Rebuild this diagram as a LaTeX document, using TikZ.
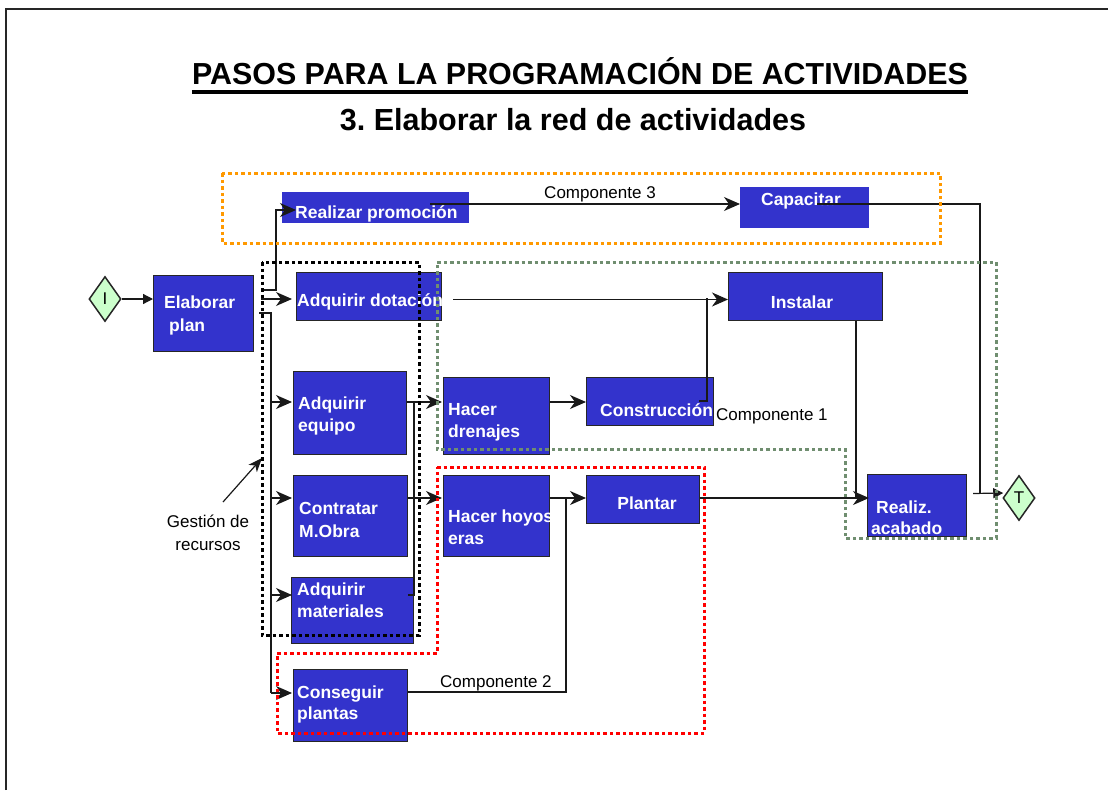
\documentclass[tikz,border=0pt]{standalone}
\usepackage{fontspec}
\setmainfont{Liberation Sans}
\usetikzlibrary{arrows.meta,shapes.geometric,calc}
\frenchspacing
\definecolor{boxblue}{RGB}{51,51,204}
\definecolor{dgreen}{RGB}{204,255,204}
\definecolor{forange}{RGB}{255,153,0}
\definecolor{fgreen}{RGB}{112,142,112}
\definecolor{fred}{RGB}{255,0,0}
\tikzset{
  boxnode/.style={draw=black!85, line width=1pt, fill=boxblue, anchor=north west, inner sep=0pt},
  plainbox/.style={fill=boxblue, anchor=north west, inner sep=0pt},
  wlbl/.style={text=white, font=\bfseries\fontsize{17.5}{21}\selectfont, inner sep=0pt, anchor=base west},
  wlblc/.style={text=white, font=\bfseries\fontsize{17.5}{21}\selectfont, inner sep=0pt, anchor=base},
  plbl/.style={text=black, font=\fontsize{17}{20}\selectfont, inner sep=0pt},
  conn/.style={draw=black!90, line width=1.2pt},
  arr/.style={conn, -{Stealth[length=16pt,width=14pt,inset=5pt]}},
  tri/.style={conn, -{Triangle[length=10pt,width=10pt]}},
  dec/.style={draw=black!85, line width=1.5pt, fill=dgreen, diamond, inner sep=0pt, minimum width=32pt, minimum height=45pt, font=\fontsize{17}{18}\selectfont},
  frame/.style={line width=3pt, dash pattern=on 3.5pt off 3pt}
}
\begin{document}
\begin{tikzpicture}[x=1pt,y=-1pt]
\useasboundingbox (0,0) rectangle (1108,790);
% page frame
\draw[line width=2.5pt, draw=black!85] (6,790) -- (6,9) -- (1108,9);
% titles
\node[font=\bfseries\fontsize{30.4}{36}\selectfont, anchor=base, inner sep=0pt] (title) at (580,84) {PASOS PARA LA PROGRAMACIÓN DE ACTIVIDADES};
\draw[line width=3.3pt] ($(title.base west)+(0,8)$) -- ($(title.base east)+(0,8)$);
\node[font=\bfseries\fontsize{30.5}{36}\selectfont, anchor=base, inner sep=0pt] (sub) at (573,130) {3. Elaborar la red de actividades};
% diamonds
\node[dec] (I) at (105,299) {I};
\node[dec] (T) at (1019,498) {T};
% boxes
\node[boxnode, minimum width=100pt, minimum height=76pt] (elab) at (153,275) {};
\node[plainbox, minimum width=187pt, minimum height=31pt] (promo) at (282,192) {};
\node[plainbox, minimum width=129pt, minimum height=41pt] (capac) at (740,187) {};
\node[boxnode, minimum width=145pt, minimum height=48pt] (dotac) at (296,272) {};
\node[boxnode, minimum width=154pt, minimum height=48pt] (instal) at (728,272) {};
\node[boxnode, minimum width=113pt, minimum height=83pt] (equipo) at (293,371) {};
\node[boxnode, minimum width=114pt, minimum height=81pt] (mobra) at (293,475) {};
\node[boxnode, minimum width=122pt, minimum height=66pt] (mater) at (291,577) {};
\node[boxnode, minimum width=114pt, minimum height=72pt] (consg) at (293,669) {};
\node[boxnode, minimum width=106pt, minimum height=77pt] (dren) at (443,377) {};
\node[boxnode, minimum width=127pt, minimum height=48pt] (constr) at (586,377) {};
\node[boxnode, minimum width=106pt, minimum height=81pt] (hoyos) at (443,475) {};
\node[boxnode, minimum width=113pt, minimum height=48pt] (plantar) at (586,475) {};
\node[boxnode, minimum width=99pt, minimum height=62pt] (acab) at (867,474) {};
% box labels
\node[wlbl] (elab1) at (164,308) {Elaborar};
\node[wlbl] (elab2) at (169,331) {plan};
\node[wlbl] (promo1) at (295,218) {Realizar promoción};
\node[wlblc] (capac1) at (801,205) {Capacitar};
\node[wlbl] (dotac1) at (297,306) {Adquirir dotación};
\node[wlblc] (instal1) at (802,308) {Instalar};
\node[wlbl] (equipo1) at (298,409) {Adquirir};
\node[wlbl] (equipo2) at (298,431) {equipo};
\node[wlbl] (mobra1) at (299,514) {Contratar};
\node[wlbl] (mobra2) at (299,537) {M.Obra};
\node[wlbl] (mater1) at (297,595) {Adquirir};
\node[wlbl] (mater2) at (297,617) {materiales};
\node[wlbl] (consg1) at (297,698) {Conseguir};
\node[wlbl] (consg2) at (297,719) {plantas};
\node[wlbl] (dren1) at (448,415) {Hacer};
\node[wlbl] (dren2) at (448,437) {drenajes};
\node[wlbl] (constr1) at (600,416) {Construcción};
\node[wlbl] (hoyos1) at (448,522) {Hacer hoyos};
\node[wlbl] (hoyos2) at (448,544) {eras};
\node[wlblc] (plantar1) at (647,509) {Plantar};
\node[wlbl] (acab1) at (876,513) {Realiz.};
\node[wlbl] (acab2) at (871,534) {acabado};
% plain labels
\node[plbl, anchor=base] (c3) at (600,198) {Componente 3};
\node[plbl, anchor=base west] (c1) at (716,420) {Componente 1};
\node[plbl, anchor=base west] (c2) at (440,687) {Componente 2};
\node[plbl, anchor=base] (gest1) at (208,527) {Gestión de};
\node[plbl, anchor=base] (gest2) at (208,550) {recursos};
% connectors
\draw[tri] (I.east) -- (I.east -| elab.west);
\draw[arr] ($(elab.north east)+(7,15)$) -- ++(15,0) |- ($(promo.north west)+(14,18)$);
\draw[arr] ($(elab.north east)+(7,24)$) -- ($(dotac.north west)+(-4,27)$);
\coordinate (bus) at (271,313);
\draw[conn] ($(elab.north east)+(5,38)$) -- (bus) -- (bus |- {$(consg.north west)+(0,24)$});
\draw[arr] (bus |- {$(equipo.north west)+(0,31)$}) -- ($(equipo.north west)+(-1,31)$);
\draw[arr] (bus |- {$(mobra.north west)+(0,23)$}) -- ($(mobra.north west)+(-1,23)$);
\draw[arr] (bus |- {$(mater.north west)+(0,18)$}) -- ($(mater.north west)+(1,18)$);
\draw[arr] (bus |- {$(consg.north west)+(0,24)$}) -- ($(consg.north west)+(-1,24)$);
\draw[arr] ($(equipo.north east)+(0,31)$) -- ($(dren.north west)+(-1,25)$);
\draw[conn] ($(equipo.north east)+(7,31)$) |- ($(mater.north east)+(-6,18)$);
\draw[arr] ($(mobra.north east)+(0,23)$) -- ($(hoyos.north west)+(-1,23)$);
\draw[arr] ($(dren.north east)+(0,25)$) -- ($(constr.north west)+(0,25)$);
\draw[arr] ($(dotac.east)+(11,3)$) -- ($(instal.west)+(0,3)$);
\draw[conn] ($(constr.north east)+(-15,24)$) -| ($(instal.west)+(-21,1)$);
\draw[arr] ($(hoyos.north east)+(0,23)$) -- ($(plantar.north west)+(0,23)$);
\draw[conn] ($(consg.north east)+(0,23)$) -| ($(hoyos.north east)+(16,23)$);
\draw[arr] ($(plantar.north east)+(0,23)$) -- ($(acab.north west)+(2,24)$);
\draw[conn] ($(instal.south east)+(-27,0)$) -- ($(instal.south east)+(-27,178)$);
\draw[arr] ($(promo.north west)+(148,12)$) -- ($(capac.north west)+(0,17)$);
\coordinate (tjoin) at (980,493);
\draw[conn] ($(capac.north west)+(77,17)$) -| (tjoin);
\draw[tri] ($(acab.east)+(6,-12)$) -- ($(T.west)+(1,-5)$);
\coordinate (gtail) at (223,502);
\coordinate (ghead) at (262,458);
\draw[conn, -{Stealth[length=14pt,width=11pt,inset=4pt]}] (gtail) -- (ghead);
% dotted frames
\draw[frame, draw=forange] (222,173) rectangle (940,243);
\draw[frame, draw=black] (262,262) rectangle (419,635);
\draw[frame, draw=fgreen] (437,262) -- (996,262) -- (996,538) -- (845,538) -- (845,449) -- (437,449) -- cycle;
\draw[frame, draw=fred] (437,467) -- (704,467) -- (704,733) -- (277,733) -- (277,653) -- (437,653) -- cycle;
\end{tikzpicture}
\end{document}
